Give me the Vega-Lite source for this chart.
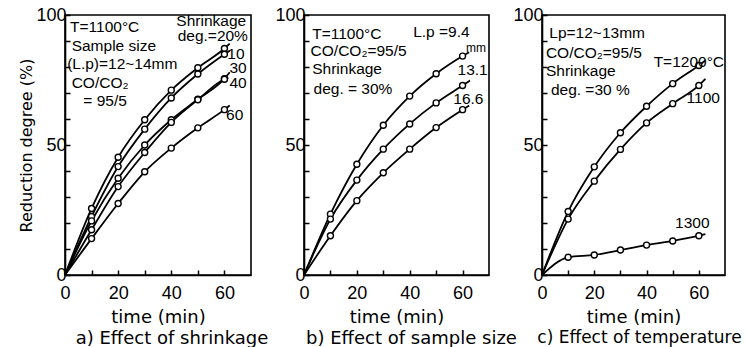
{
  "$schema": "https://vega.github.io/schema/vega-lite/v6.json",
  "background": "white",
  "padding": {"left": 18, "top": 5, "right": 0, "bottom": 0},
  "bounds": "flush",
  "spacing": 53,
  "config": {
    "view": {"stroke": "black", "strokeWidth": 1.6},
    "style": {"guide-title": {"fontWeight": 400}},
    "axis": {
      "grid": false,
      "domainColor": "black", "domainWidth": 1.6,
      "tickColor": "black", "tickWidth": 1.5, "tickSize": -5,
      "labelFont": "Liberation Sans", "labelFontSize": 18, "labelColor": "black",
      "labelPadding": 4, "labelFlush": false, "labelOverlap": false,
      "titleFont": "DejaVu Sans", "titleFontSize": 18, "titleFontWeight": 400, "titleColor": "black"
    },
    "axisX": {"labelPadding": 14, "titlePadding": 6, "titleFontWeight": 400},
    "axisY": {"labelPadding": 4, "titleFontWeight": 400},
    "title": {"font": "DejaVu Sans", "fontSize": 18, "fontWeight": 400, "color": "black", "offset": 4}
  },
  "datasets": {
    "a": [
      {"series": "20%", "time": 0, "value": 0}, {"series": "20%", "time": 10, "value": 25.6}, {"series": "20%", "time": 20, "value": 45.3}, {"series": "20%", "time": 30, "value": 59.7}, {"series": "20%", "time": 40, "value": 71.1}, {"series": "20%", "time": 50, "value": 79.7}, {"series": "20%", "time": 60, "value": 87.1}, {"series": "20%", "time": 62, "value": 89},
      {"series": "10", "time": 0, "value": 0}, {"series": "10", "time": 10, "value": 22.5}, {"series": "10", "time": 20, "value": 41.7}, {"series": "10", "time": 30, "value": 56.1}, {"series": "10", "time": 40, "value": 68.1}, {"series": "10", "time": 50, "value": 77.3}, {"series": "10", "time": 60, "value": 84.9}, {"series": "10", "time": 62, "value": 86.3},
      {"series": "30", "time": 0, "value": 0}, {"series": "30", "time": 10, "value": 20.8}, {"series": "30", "time": 20, "value": 37.2}, {"series": "30", "time": 30, "value": 50}, {"series": "30", "time": 40, "value": 59.7}, {"series": "30", "time": 50, "value": 67.6}, {"series": "30", "time": 60, "value": 75.5}, {"series": "30", "time": 62, "value": 78},
      {"series": "40", "time": 0, "value": 0}, {"series": "40", "time": 10, "value": 17.4}, {"series": "40", "time": 20, "value": 34}, {"series": "40", "time": 30, "value": 47.1}, {"series": "40", "time": 40, "value": 58.7}, {"series": "40", "time": 50, "value": 67.4}, {"series": "40", "time": 60, "value": 75.3}, {"series": "40", "time": 61.5, "value": 75.8},
      {"series": "60", "time": 0, "value": 0}, {"series": "60", "time": 10, "value": 14}, {"series": "60", "time": 20, "value": 27.5}, {"series": "60", "time": 30, "value": 39.7}, {"series": "60", "time": 40, "value": 48.8}, {"series": "60", "time": 50, "value": 56.6}, {"series": "60", "time": 60, "value": 63.6}, {"series": "60", "time": 62, "value": 65.2}
    ],
    "b": [
      {"series": "9.4", "time": 0, "value": 0}, {"series": "9.4", "time": 10, "value": 23.4}, {"series": "9.4", "time": 20, "value": 42.6}, {"series": "9.4", "time": 30, "value": 57.6}, {"series": "9.4", "time": 40, "value": 68.8}, {"series": "9.4", "time": 50, "value": 77.4}, {"series": "9.4", "time": 60, "value": 84.2}, {"series": "9.4", "time": 62.5, "value": 85.7},
      {"series": "13.1", "time": 0, "value": 0}, {"series": "13.1", "time": 10, "value": 21.5}, {"series": "13.1", "time": 20, "value": 36.5}, {"series": "13.1", "time": 30, "value": 48.4}, {"series": "13.1", "time": 40, "value": 58.1}, {"series": "13.1", "time": 50, "value": 66.2}, {"series": "13.1", "time": 60, "value": 72.9}, {"series": "13.1", "time": 62.8, "value": 74.8},
      {"series": "16.6", "time": 0, "value": 0}, {"series": "16.6", "time": 10, "value": 15.1}, {"series": "16.6", "time": 20, "value": 28.6}, {"series": "16.6", "time": 30, "value": 39.3}, {"series": "16.6", "time": 40, "value": 48.4}, {"series": "16.6", "time": 50, "value": 56.7}, {"series": "16.6", "time": 60, "value": 63.6}, {"series": "16.6", "time": 62.5, "value": 65.2}
    ],
    "c": [
      {"series": "1200", "time": 0, "value": 0}, {"series": "1200", "time": 10, "value": 24.4}, {"series": "1200", "time": 20, "value": 41.6}, {"series": "1200", "time": 30, "value": 54.7}, {"series": "1200", "time": 40, "value": 64.9}, {"series": "1200", "time": 50, "value": 73.6}, {"series": "1200", "time": 60, "value": 80.6}, {"series": "1200", "time": 62.5, "value": 82.5},
      {"series": "1100", "time": 0, "value": 0}, {"series": "1100", "time": 10, "value": 21.5}, {"series": "1100", "time": 20, "value": 36.1}, {"series": "1100", "time": 30, "value": 48.3}, {"series": "1100", "time": 40, "value": 58.5}, {"series": "1100", "time": 50, "value": 65.9}, {"series": "1100", "time": 60, "value": 72.9}, {"series": "1100", "time": 62.5, "value": 75.4},
      {"series": "1300", "time": 0, "value": 0}, {"series": "1300", "time": 10, "value": 6.8}, {"series": "1300", "time": 20, "value": 7.7}, {"series": "1300", "time": 30, "value": 9.6}, {"series": "1300", "time": 40, "value": 11.5}, {"series": "1300", "time": 50, "value": 13.1}, {"series": "1300", "time": 60, "value": 15.1}, {"series": "1300", "time": 62.5, "value": 15.7}
    ],
    "aText": [
      {"time": 1.9, "value": 95.3, "label": "T=1100°C"},
      {"time": 2.5, "value": 88.2, "label": "Sample  size"},
      {"time": 0.8, "value": 81.1, "label": "(L.p)=12~14mm"},
      {"time": 2.5, "value": 74, "label": "CO/CO₂"},
      {"time": 6.9, "value": 66.9, "label": "= 95/5"},
      {"time": 41.9, "value": 97.6, "label": "Shrinkage"},
      {"time": 42.4, "value": 91.9, "label": "deg.=20%"},
      {"time": 61.1, "value": 85, "label": "10"},
      {"time": 61.9, "value": 79.6, "label": "30"},
      {"time": 61.9, "value": 73.8, "label": "40"},
      {"time": 60.6, "value": 61.7, "label": "60"}
    ],
    "bText": [
      {"time": 3.1, "value": 92.7, "label": "T=1100°C"},
      {"time": 2.5, "value": 86.3, "label": "CO/CO₂=95/5"},
      {"time": 3.1, "value": 79.3, "label": "Shrinkage"},
      {"time": 3.6, "value": 71.6, "label": "deg. = 30%"},
      {"time": 41.3, "value": 93.4, "label": "L.p =9.4"},
      {"time": 58.1, "value": 78.7, "label": "13.1"},
      {"time": 56.5, "value": 67.8, "label": "16.6"}
    ],
    "cText": [
      {"time": 2.8, "value": 93, "label": "Lp=12~13mm"},
      {"time": 1.5, "value": 85.3, "label": "CO/CO₂=95/5"},
      {"time": 1.5, "value": 78.3, "label": "Shrinkage"},
      {"time": 3.4, "value": 71.3, "label": "deg. =30 %"},
      {"time": 42.7, "value": 82.1, "label": "T=1200°C"},
      {"time": 55.3, "value": 68.1, "label": "1100"},
      {"time": 50.9, "value": 19.9, "label": "1300"}
    ]
  },
  "hconcat": [
    {
      "width": 186, "height": 260,
      "title": {"text": "a) Effect of shrinkage", "orient": "bottom", "dx": 14},
      "encoding": {
        "x": {"field": "time", "type": "quantitative", "scale": {"domain": [0, 70], "nice": false},
              "axis": {"values": [0, 10, 20, 30, 40, 50, 60], "labelExpr": "datum.value % 20 === 0 ? datum.label : ''", "title": "time (min)", "titleFontWeight": 400}},
        "y": {"field": "value", "type": "quantitative", "scale": {"domain": [0, 100], "nice": false},
              "axis": {"values": [0, 10, 20, 30, 40, 50, 60, 70, 80, 90, 100], "labelExpr": "datum.value % 50 === 0 ? datum.label : ''", "title": "Reduction degree (%)", "titleFontSize": 16, "titleFontWeight": 400, "titlePadding": 1}}
      },
      "layer": [
        {"data": {"name": "a"}, "mark": {"type": "line", "interpolate": "monotone", "color": "black", "strokeWidth": 1.8}, "encoding": {"detail": {"field": "series"}}},
        {"data": {"name": "a"}, "transform": [{"filter": "datum.time > 0 && datum.time <= 60"}], "mark": {"type": "point", "shape": "circle", "filled": true, "fill": "white", "stroke": "black", "strokeWidth": 1.4, "size": 36, "opacity": 1}, "encoding": {"detail": {"field": "series"}}},
        {"data": {"name": "aText"}, "mark": {"type": "text", "align": "left", "baseline": "middle", "font": "Liberation Sans", "fontSize": 15.5, "color": "black"}, "encoding": {"text": {"field": "label"}}}
      ]
    },
    {
      "width": 185, "height": 260,
      "title": {"text": "b) Effect of sample size", "orient": "bottom", "dx": 15},
      "encoding": {
        "x": {"field": "time", "type": "quantitative", "scale": {"domain": [0, 70], "nice": false},
              "axis": {"values": [0, 10, 20, 30, 40, 50, 60], "labelExpr": "datum.value % 20 === 0 ? datum.label : ''", "title": "time (min)", "titleFontWeight": 400}},
        "y": {"field": "value", "type": "quantitative", "scale": {"domain": [0, 100], "nice": false},
              "axis": {"values": [0, 10, 20, 30, 40, 50, 60, 70, 80, 90, 100], "labelExpr": "datum.value % 50 === 0 ? datum.label : ''", "title": null}}
      },
      "layer": [
        {"data": {"name": "b"}, "mark": {"type": "line", "interpolate": "monotone", "color": "black", "strokeWidth": 1.8}, "encoding": {"detail": {"field": "series"}}},
        {"data": {"name": "b"}, "transform": [{"filter": "datum.time > 0 && datum.time <= 60"}], "mark": {"type": "point", "shape": "circle", "filled": true, "fill": "white", "stroke": "black", "strokeWidth": 1.4, "size": 36, "opacity": 1}, "encoding": {"detail": {"field": "series"}}},
        {"data": {"name": "bText"}, "mark": {"type": "text", "align": "left", "baseline": "middle", "font": "Liberation Sans", "fontSize": 15.5, "color": "black"}, "encoding": {"text": {"field": "label"}}},
        {"data": {"values": [{"time": 61.3, "value": 87.2, "label": "mm"}]}, "mark": {"type": "text", "align": "left", "baseline": "middle", "font": "Liberation Sans", "fontSize": 12, "color": "black"}, "encoding": {"text": {"field": "label"}}}
      ]
    },
    {
      "width": 183, "height": 260,
      "title": {"text": "c) Effect of temperature", "orient": "bottom", "dx": 6, "fontSize": 17},
      "encoding": {
        "x": {"field": "time", "type": "quantitative", "scale": {"domain": [0, 70], "nice": false},
              "axis": {"values": [0, 10, 20, 30, 40, 50, 60], "labelExpr": "datum.value % 20 === 0 ? datum.label : ''", "title": "time (min)", "titleFontWeight": 400}},
        "y": {"field": "value", "type": "quantitative", "scale": {"domain": [0, 100], "nice": false},
              "axis": {"values": [0, 10, 20, 30, 40, 50, 60, 70, 80, 90, 100], "labelExpr": "datum.value % 50 === 0 ? datum.label : ''", "title": null}}
      },
      "layer": [
        {"data": {"name": "c"}, "mark": {"type": "line", "interpolate": "monotone", "color": "black", "strokeWidth": 1.8}, "encoding": {"detail": {"field": "series"}}},
        {"data": {"name": "c"}, "transform": [{"filter": "datum.time > 0 && datum.time <= 60"}], "mark": {"type": "point", "shape": "circle", "filled": true, "fill": "white", "stroke": "black", "strokeWidth": 1.4, "size": 36, "opacity": 1}, "encoding": {"detail": {"field": "series"}}},
        {"data": {"name": "cText"}, "mark": {"type": "text", "align": "left", "baseline": "middle", "font": "Liberation Sans", "fontSize": 15.5, "color": "black"}, "encoding": {"text": {"field": "label"}}}
      ]
    }
  ]
}
